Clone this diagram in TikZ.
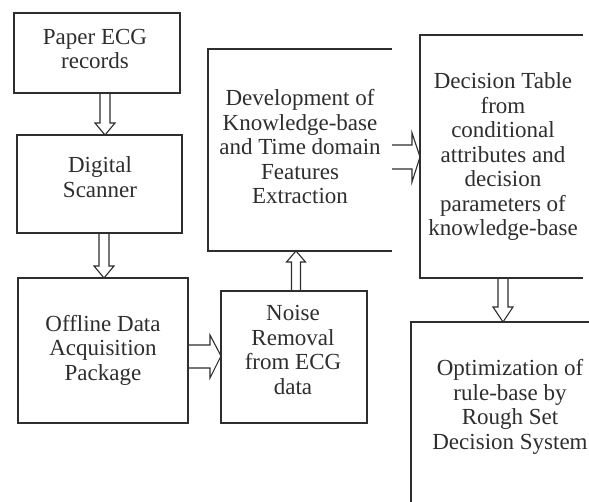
\documentclass[tikz,border=0pt]{standalone}
\usepackage{fontspec}
\setmainfont{Liberation Serif}
\usetikzlibrary{calc}
\definecolor{ink}{HTML}{2E2E2E}
\tikzset{
  frame/.style={draw=ink, line width=1.3pt, inner sep=0pt, outer sep=0pt},
  ghost/.style={inner sep=0pt, outer sep=0pt},
  openframe/.style={draw=ink, line width=1.3pt},
  txt/.style={text=ink, align=center, inner sep=0pt, font=\fontsize{23}{24.5}\selectfont},
  blk/.style={draw=ink, line width=1.1pt, line join=miter}
}
\begin{document}
\begin{tikzpicture}[x=1pt,y=-1pt]
\clip (0,0) rectangle (589,502);
\fill[white] (0,0) rectangle (589,502);
% closed boxes
\node[frame, minimum width=166pt, minimum height=80pt] (paper) at (97,53) {};
\node[frame, minimum width=165pt, minimum height=98pt] (digital) at (99.5,184) {};
\node[frame, minimum width=170pt, minimum height=145pt] (offline) at (103,350.5) {};
\node[frame, minimum width=146pt, minimum height=132pt] (noise) at (294,357) {};
% open boxes
\node[ghost, minimum width=184pt, minimum height=202pt] (dev) at (300,150) {};
\draw[openframe] (dev.north east) -- (dev.north west) -- (dev.south west) -- (dev.south east);
\node[ghost, minimum width=163pt, minimum height=243pt] (dec) at (501.5,156.5) {};
\draw[openframe] (dec.north east) -- (dec.north west) -- (dec.south west) -- (dec.south east);
\node[ghost, minimum width=190pt, minimum height=200pt] (opt) at (506,422) {};
\draw[openframe] (opt.north east) -- (opt.north west) -- (opt.south west);
% texts
\node[txt] (tpaper) at (95,49) {Paper ECG\\records};
\node[txt] (tdigital) at (100,177) {Digital\\Scanner};
\node[txt] (toffline) at (103,350) {Offline Data\\Acquisition\\Package};
\node[txt] (tnoise) at (293,350) {Noise\\Removal\\from ECG\\data};
\node[txt] (tdev) at (300,147) {Development of\\Knowledge-base\\and Time domain\\Features\\Extraction};
\node[txt] (tdec) at (503,157) {Decision Table\\from\\conditional\\attributes and\\decision\\parameters of\\knowledge-base};
\node[txt] (topt) at (510,407) {Optimization of\\rule-base by\\Rough Set\\Decision System};
% block arrows
\draw[blk] (100,0 |- paper.south) -- (100,123) -- (95,123) -- (105,0 |- digital.north) -- (115,123) -- (110,123) -- (110,0 |- paper.south);
\draw[blk] (99,0 |- digital.south) -- (99,266) -- (94,266) -- (104,0 |- offline.north) -- (114,266) -- (109,266) -- (109,0 |- digital.south);
\draw[blk] (offline.east |- 0,345) -- (210,345) -- (210,335) -- (noise.west |- 0,356) -- (210,378) -- (210,368) -- (offline.east |- 0,368);
\draw[blk] (291.5,0 |- noise.north) -- (291.5,262) -- (286.5,262) -- (296,0 |- dev.south) -- (305.5,262) -- (300.5,262) -- (300.5,0 |- noise.north);
\draw[blk] (dev.east |- 0,145) -- (412,145) -- (412,133) -- (dec.west |- 0,157) -- (412,182) -- (412,169) -- (dev.east |- 0,169);
\draw[blk] (498,0 |- dec.south) -- (498,307) -- (493,307) -- (503,0 |- opt.north) -- (513,307) -- (508,307) -- (508,0 |- dec.south);
\end{tikzpicture}
\end{document}
